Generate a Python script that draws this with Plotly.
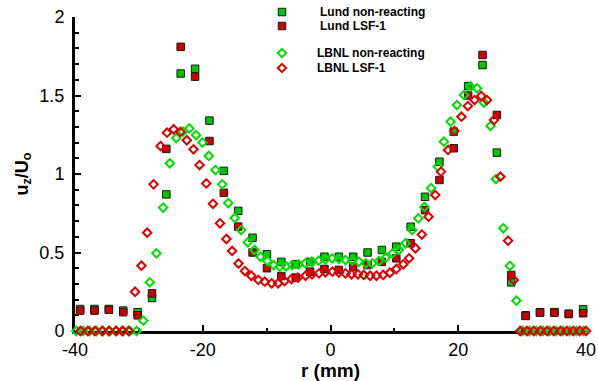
import plotly.graph_objects as go

# ---- Lund measurements (filled squares) ----
lund_r = [-39.2, -36.95, -34.7, -32.45, -30.2, -27.95, -25.7, -23.45, -21.2, -18.95,
          -16.7, -14.45, -12.2, -9.95, -7.7, -5.45, -3.2, -0.95, 1.3, 3.55,
          5.8, 8.05, 10.3, 12.55, 14.8, 17.05, 19.3, 21.55, 23.8, 26.05,
          28.3, 30.55, 32.8, 35.05, 37.3, 39.55]
lund_nonreacting = [0.14, 0.14, 0.14, 0.13, 0.12, 0.21, 0.87, 1.64, 1.67, 1.34,
                    1.02, 0.765, 0.594, 0.489, 0.44, 0.425, 0.44, 0.473, 0.473, 0.473,
                    0.50, 0.516, 0.537, 0.664, 0.855, 1.078, 1.27, 1.56, 1.694, 1.136,
                    0.31, 0.10, 0.12, 0.12, 0.11, 0.138]
lund_lsf1 = [0.13, 0.13, 0.135, 0.12, 0.10, 0.24, 1.16, 1.81, 1.62, 1.21,
             0.88, 0.665, 0.50, 0.40, 0.35, 0.34, 0.378, 0.395, 0.389, 0.41,
             0.42, 0.44, 0.463, 0.559, 0.77, 0.962, 1.164, 1.50, 1.758, 1.376,
             0.357, 0.096, 0.117, 0.117, 0.108, 0.113]

# ---- LBNL measurements (open diamonds) ----
lbnl_nonreacting_r = [-39.8, -38.75, -37.7, -36.65, -35.6, -34.55, -33.5, -32.45, -31.4, -30.35,
                      -29.3, -28.3, -27.25, -26.2, -25.15, -24.15, -23.1, -22.1, -21.05, -20.05,
                      -19.05, -18.0, -16.95, -16.0, -15.0, -14.0, -12.95, -11.9, -10.95, -9.9,
                      -8.9, -7.95, -6.95, -6.0, -5.0, -3.95, -2.9, -1.85, -0.8, 0.25,
                      1.3, 2.35, 3.4, 4.45, 5.5, 6.55, 7.6, 8.65, 9.7, 10.7,
                      11.75, 12.8, 13.75, 14.7, 15.75, 16.8, 17.75, 18.8, 19.8, 20.9,
                      21.9, 22.95, 24.0, 25.05, 25.9, 27.05, 28.1, 29.1, 30.1, 31.15,
                      32.2, 33.25, 34.3, 35.35, 36.4, 37.45, 38.5, 39.55]
lbnl_nonreacting = [0, 0, 0, 0, 0, 0, 0, 0, 0, 0,
                    0.066, 0.31, 0.495, 0.786, 1.068, 1.229, 1.27, 1.29, 1.248, 1.2,
                    1.115, 1.025, 0.934, 0.815, 0.72, 0.643, 0.565, 0.516, 0.473, 0.446,
                    0.42, 0.41, 0.412, 0.42, 0.425, 0.431, 0.441, 0.448, 0.457, 0.463,
                    0.459, 0.452, 0.448, 0.441, 0.431, 0.431, 0.446, 0.467, 0.495, 0.516,
                    0.559, 0.643, 0.718, 0.79, 0.91, 1.047, 1.206, 1.333, 1.439, 1.503,
                    1.556, 1.546, 1.455, 1.306, 0.968, 0.654, 0.415, 0.193, 0, 0,
                    0, 0, 0, 0, 0, 0, 0, 0]

lbnl_lsf1_r = [-39.15, -38.0, -36.9, -35.75, -34.7, -33.6, -32.6, -31.6,
               -30.6, -29.6, -28.7, -27.7, -26.6, -25.6, -24.55, -23.5, -22.5, -21.45,
               -20.5, -19.45, -18.4, -17.3, -16.3, -15.4, -14.4, -13.4, -12.4, -11.3,
               -10.3, -9.2, -8.2, -7.2, -6.1, -5.1, -3.9, -2.9, -1.8, -0.8,
               0.3, 1.3, 2.35, 3.3, 4.3, 5.2, 6.2, 7.2, 8.25, 9.3,
               10.3, 11.4, 12.3, 13.3, 14.3, 15.35, 16.4, 17.3, 18.4, 19.4,
               20.5, 21.5, 22.55, 23.6, 24.5, 25.6, 26.6, 27.8, 28.7,
               29.7, 30.75, 31.8, 32.85, 33.9, 34.95, 36.0, 37.0, 38.0, 39.0, 40.0]
lbnl_lsf1 = [0, 0, 0, 0, 0, 0, 0, 0,
             0.25, 0.416, 0.626, 0.934, 1.178, 1.263, 1.285, 1.268, 1.215, 1.157,
             1.057, 0.94, 0.81, 0.686, 0.586, 0.51, 0.43, 0.382, 0.352, 0.325,
             0.314, 0.304, 0.304, 0.318, 0.331, 0.34, 0.352, 0.361, 0.367, 0.374,
             0.378, 0.372, 0.367, 0.361, 0.361, 0.357, 0.352, 0.352, 0.357, 0.371,
             0.395, 0.425, 0.463, 0.527, 0.614, 0.728, 0.866, 1.015, 1.153, 1.274,
             1.365, 1.433, 1.471, 1.497, 1.471, 1.344, 0.983, 0.575, 0.325,
             0, 0, 0, 0, 0, 0, 0, 0, 0, 0, 0]

series_names = ["Lund non-reacting", "Lund LSF-1", "LBNL non-reacting", "LBNL LSF-1"]

x_tickvals = [-40, -20, 0, 20, 40]
x_ticktext = ["-40", "-20", "0", "20", "40"]
y_tickvals = [0, 0.5, 1, 1.5, 2]
y_ticktext = ["0", "0.5", "1", "1.5", "2"]

GREEN_FILL, RED_FILL = "#00c400", "#cc0000"
GREEN_LINE, RED_LINE = "#00dd00", "#dd0000"
FONT = "Liberation Sans, Arial, sans-serif"

W, H = 598, 381
ML, MR, MT, MB = 75, 12, 17, 50


def paper_x(px):
    return (px - ML) / (W - ML - MR)


def paper_y(py):
    return (H - MB - py) / (H - MT - MB)


def square_trace(r, v, name, fill):
    return go.Scatter(x=r, y=v, mode="markers", name=name, showlegend=False,
                      cliponaxis=False,
                      marker=dict(symbol="square", size=7.5, color=fill,
                                  line=dict(color="#1a1a1a", width=1)))


def diamond_trace(r, v, name, color):
    return go.Scatter(x=r, y=v, mode="markers", name=name, showlegend=False,
                      cliponaxis=False,
                      marker=dict(symbol="diamond-open", size=6.5, color=color,
                                  line=dict(color=color, width=2)))


fig = go.Figure()
fig.add_trace(square_trace(lund_r, lund_nonreacting, series_names[0], GREEN_FILL))
fig.add_trace(square_trace(lund_r, lund_lsf1, series_names[1], RED_FILL))
fig.add_trace(diamond_trace(lbnl_nonreacting_r, lbnl_nonreacting, series_names[2], GREEN_LINE))
fig.add_trace(diamond_trace(lbnl_lsf1_r, lbnl_lsf1, series_names[3], RED_LINE))

# Compact key drawn with shapes + annotations (tight row spacing)
key_rows = [
    (series_names[0], "square", GREEN_FILL, 12, 318),
    (series_names[1], "square", RED_FILL, 26, 318),
    (series_names[2], "diamond", GREEN_LINE, 53, 315),
    (series_names[3], "diamond", RED_LINE, 68, 315),
]
key_marker_px = 282
shapes, annotations = [], []
for name, sym, color, ypx, textpx in key_rows:
    common = dict(xref="paper", yref="paper", xsizemode="pixel", ysizemode="pixel",
                  xanchor=paper_x(key_marker_px), yanchor=paper_y(ypx))
    if sym == "square":
        shapes.append(dict(type="rect", x0=-3.75, x1=3.75, y0=-3.75, y1=3.75,
                           fillcolor=color, line=dict(color="#1a1a1a", width=1), **common))
    else:
        shapes.append(dict(type="path", path="M -4.2 0 L 0 4.2 L 4.2 0 L 0 -4.2 Z",
                           fillcolor="rgba(0,0,0,0)", line=dict(color=color, width=2), **common))
    annotations.append(dict(text="<b>%s</b>" % name, xref="paper", yref="paper",
                            x=paper_x(textpx), y=paper_y(ypx), xanchor="left",
                            yanchor="middle", showarrow=False,
                            font=dict(family=FONT, size=12, color="black")))

axis_common = dict(showline=True, linecolor="black", linewidth=3, mirror=False,
                   showgrid=False, zeroline=False, ticks="inside", tickcolor="black",
                   tickwidth=1.5, ticklen=6, layer="below traces",
                   tickfont=dict(family=FONT, size=18, color="black"))

fig.update_layout(
    width=W, height=H,
    margin=dict(l=ML, r=MR, t=MT, b=MB, autoexpand=False),
    paper_bgcolor="white", plot_bgcolor="white",
    shapes=shapes, annotations=annotations,
    xaxis=dict(range=[-40, 40], tickmode="array", tickvals=x_tickvals, ticktext=x_ticktext,
               minor=dict(tickmode="linear", tick0=0, dtick=10, ticks="inside",
                          ticklen=3.5, tickwidth=1.5, tickcolor="black"),
               title=dict(text="<b>r (mm)</b>", standoff=0,
                          font=dict(family=FONT, size=19, color="black")),
               **axis_common),
    yaxis=dict(range=[0, 2], tickmode="array", tickvals=y_tickvals, ticktext=y_ticktext,
               minor=dict(tickmode="linear", tick0=0, dtick=0.1, ticks="inside",
                          ticklen=3.5, tickwidth=1.5, tickcolor="black"),
               ticklabelstandoff=4,
               title=dict(text="<b>u<sub>z</sub>/U<sub>o</sub></b>", standoff=7,
                          font=dict(family=FONT, size=18, color="black")),
               **axis_common),
)

fig.write_html("out.html")
